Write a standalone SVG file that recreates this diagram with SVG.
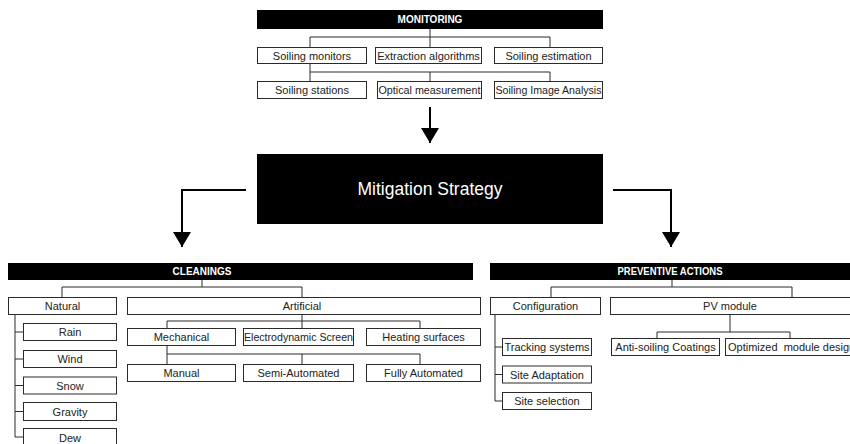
<svg xmlns="http://www.w3.org/2000/svg" width="850" height="444" viewBox="0 0 850 444">
<style>
.bar{fill:#000}
.box{fill:#fff;stroke:#2a2a2a;stroke-width:1}
.t{font-family:"Liberation Sans",Arial,sans-serif;font-size:11px;fill:#222;text-anchor:middle;dominant-baseline:central}
.h{font-family:"Liberation Sans",Arial,sans-serif;font-size:10px;font-weight:bold;fill:#fff;text-anchor:middle;dominant-baseline:central}
.big{font-family:"Liberation Sans",Arial,sans-serif;font-size:17.5px;fill:#fff;text-anchor:middle;dominant-baseline:central}
.c{fill:none;stroke:#2a2a2a;stroke-width:1}
.a{fill:none;stroke:#000;stroke-width:2}
</style>
<defs>
<marker id="ah" viewBox="0 0 15 18" refX="15" refY="9" markerWidth="15" markerHeight="18" markerUnits="userSpaceOnUse" orient="auto">
<path d="M0,0 L15,9 L0,18 Z" fill="#000"/>
</marker>
</defs>
<rect width="850" height="444" fill="#fff"/>

<g id="connectors">
<path class="c" d="M430,29 V37 M310,37 H550 M310,37 V47 M430,37 V47 M550,37 V47"/>
<path class="c" d="M310,63 V72 H550 M310,72 V81 M430,72 V81 M550,72 V81"/>
<path class="c" d="M202,280 V287 M62,287 H302 M62,287 V297 M302,287 V297"/>
<path class="c" d="M15,315 V437 M15,332 H23 M15,359 H23 M15,385.5 H23 M15,411.5 H23 M15,437 H23"/>
<path class="c" d="M302,315 V321 M167,321 H420 M167,321 V328 M302,321 V328 M420,321 V328"/>
<path class="c" d="M167,346 V354 H420 M167,354 V364 M302,354 V364 M420,354 V364"/>
<path class="c" d="M672,280 V287 M551,287 H792 M551,287 V297 M792,287 V297"/>
<path class="c" d="M495,315 V401 M495,347 H502 M495,374.5 H502 M495,401 H502"/>
<path class="c" d="M730,315 V332 M657,332 H790 M657,332 V338 M790,332 V338"/>
<path class="a" d="M430,107 V143" marker-end="url(#ah)"/>
<path class="a" d="M246,190 H182 V247" marker-end="url(#ah)"/>
<path class="a" d="M613,190 H671 V247" marker-end="url(#ah)"/>
</g>

<g id="monitoring"><rect class="bar" x="257" y="10" width="346" height="19"/><text class="h" x="430" y="19.5">MONITORING</text></g>
<g id="soiling-monitors"><rect class="box" x="257.5" y="47.5" width="109" height="16"/><text class="t" x="312" y="55.5">Soiling monitors</text></g>
<g id="extraction-algorithms"><rect class="box" x="375.5" y="47.5" width="106" height="16"/><text class="t" x="428.5" y="55.5">Extraction algorithms</text></g>
<g id="soiling-estimation"><rect class="box" x="494.5" y="47.5" width="108" height="16"/><text class="t" x="548.5" y="55.5">Soiling estimation</text></g>
<g id="soiling-stations"><rect class="box" x="257.5" y="81.5" width="109" height="17"/><text class="t" x="312" y="90">Soiling stations</text></g>
<g id="optical-measurement"><rect class="box" x="377.5" y="81.5" width="104" height="17"/><text class="t" x="429.5" y="90" textLength="102" lengthAdjust="spacingAndGlyphs">Optical measurement</text></g>
<g id="soiling-image-analysis"><rect class="box" x="494.5" y="81.5" width="108" height="17"/><text class="t" x="548.5" y="90" textLength="106" lengthAdjust="spacingAndGlyphs">Soiling Image Analysis</text></g>

<g id="mitigation"><rect class="bar" x="257" y="154" width="346" height="70"/><text class="big" x="430" y="189">Mitigation Strategy</text></g>

<g id="cleanings"><rect class="bar" x="8" y="263" width="465" height="17"/><text class="h" x="202" y="271.5">CLEANINGS</text></g>
<g id="natural"><rect class="box" x="8.5" y="297.5" width="108" height="17"/><text class="t" x="62.5" y="306">Natural</text></g>
<g id="artificial"><rect class="box" x="127.5" y="297.5" width="353" height="17"/><text class="t" x="302" y="306">Artificial</text></g>
<g id="rain"><rect class="box" x="23.5" y="323.5" width="93" height="17"/><text class="t" x="70" y="332">Rain</text></g>
<g id="wind"><rect class="box" x="23.5" y="350.5" width="93" height="17"/><text class="t" x="70" y="359">Wind</text></g>
<g id="snow"><rect class="box" x="23.5" y="377" width="93" height="17"/><text class="t" x="70" y="385.5">Snow</text></g>
<g id="gravity"><rect class="box" x="23.5" y="402.5" width="93" height="18"/><text class="t" x="70" y="411.5">Gravity</text></g>
<g id="dew"><rect class="box" x="23.5" y="428.5" width="93" height="18"/><text class="t" x="70" y="437.5">Dew</text></g>
<g id="mechanical"><rect class="box" x="127.5" y="328.5" width="108" height="17"/><text class="t" x="181.5" y="337">Mechanical</text></g>
<g id="electrodynamic-screen"><rect class="box" x="243.5" y="328.5" width="110" height="17"/><text class="t" x="298.5" y="337" textLength="109" lengthAdjust="spacingAndGlyphs">Electrodynamic Screen</text></g>
<g id="heating-surfaces"><rect class="box" x="366.5" y="328.5" width="114" height="17"/><text class="t" x="423.5" y="337">Heating surfaces</text></g>
<g id="manual"><rect class="box" x="127.5" y="364.5" width="108" height="17"/><text class="t" x="181.5" y="373">Manual</text></g>
<g id="semi-automated"><rect class="box" x="243.5" y="364.5" width="110" height="17"/><text class="t" x="298.5" y="373">Semi-Automated</text></g>
<g id="fully-automated"><rect class="box" x="366.5" y="364.5" width="114" height="17"/><text class="t" x="423.5" y="373">Fully Automated</text></g>

<g id="preventive-actions"><rect class="bar" x="490" y="263" width="365" height="17"/><text class="h" x="670" y="271.5" textLength="105" lengthAdjust="spacingAndGlyphs">PREVENTIVE ACTIONS</text></g>
<g id="configuration"><rect class="box" x="490.5" y="297.5" width="110" height="17"/><text class="t" x="545.5" y="306">Configuration</text></g>
<g id="pv-module"><rect class="box" x="610.5" y="297.5" width="250" height="17"/><text class="t" x="730" y="306">PV module</text></g>
<g id="tracking-systems"><rect class="box" x="502.5" y="338.5" width="89" height="17"/><text class="t" x="547" y="347">Tracking systems</text></g>
<g id="site-adaptation"><rect class="box" x="502.5" y="366" width="89" height="17"/><text class="t" x="547" y="374.5">Site Adaptation</text></g>
<g id="site-selection"><rect class="box" x="502.5" y="392.5" width="89" height="17"/><text class="t" x="547" y="401">Site selection</text></g>
<g id="anti-soiling-coatings"><rect class="box" x="611.5" y="338.5" width="108" height="17"/><text class="t" x="665.5" y="347">Anti-soiling Coatings</text></g>
<g id="optimized-module-design"><rect class="box" x="725.5" y="338.5" width="140" height="17"/><text class="t" x="728" y="347" style="text-anchor:start;white-space:pre">Optimized  module design</text></g>
</svg>
